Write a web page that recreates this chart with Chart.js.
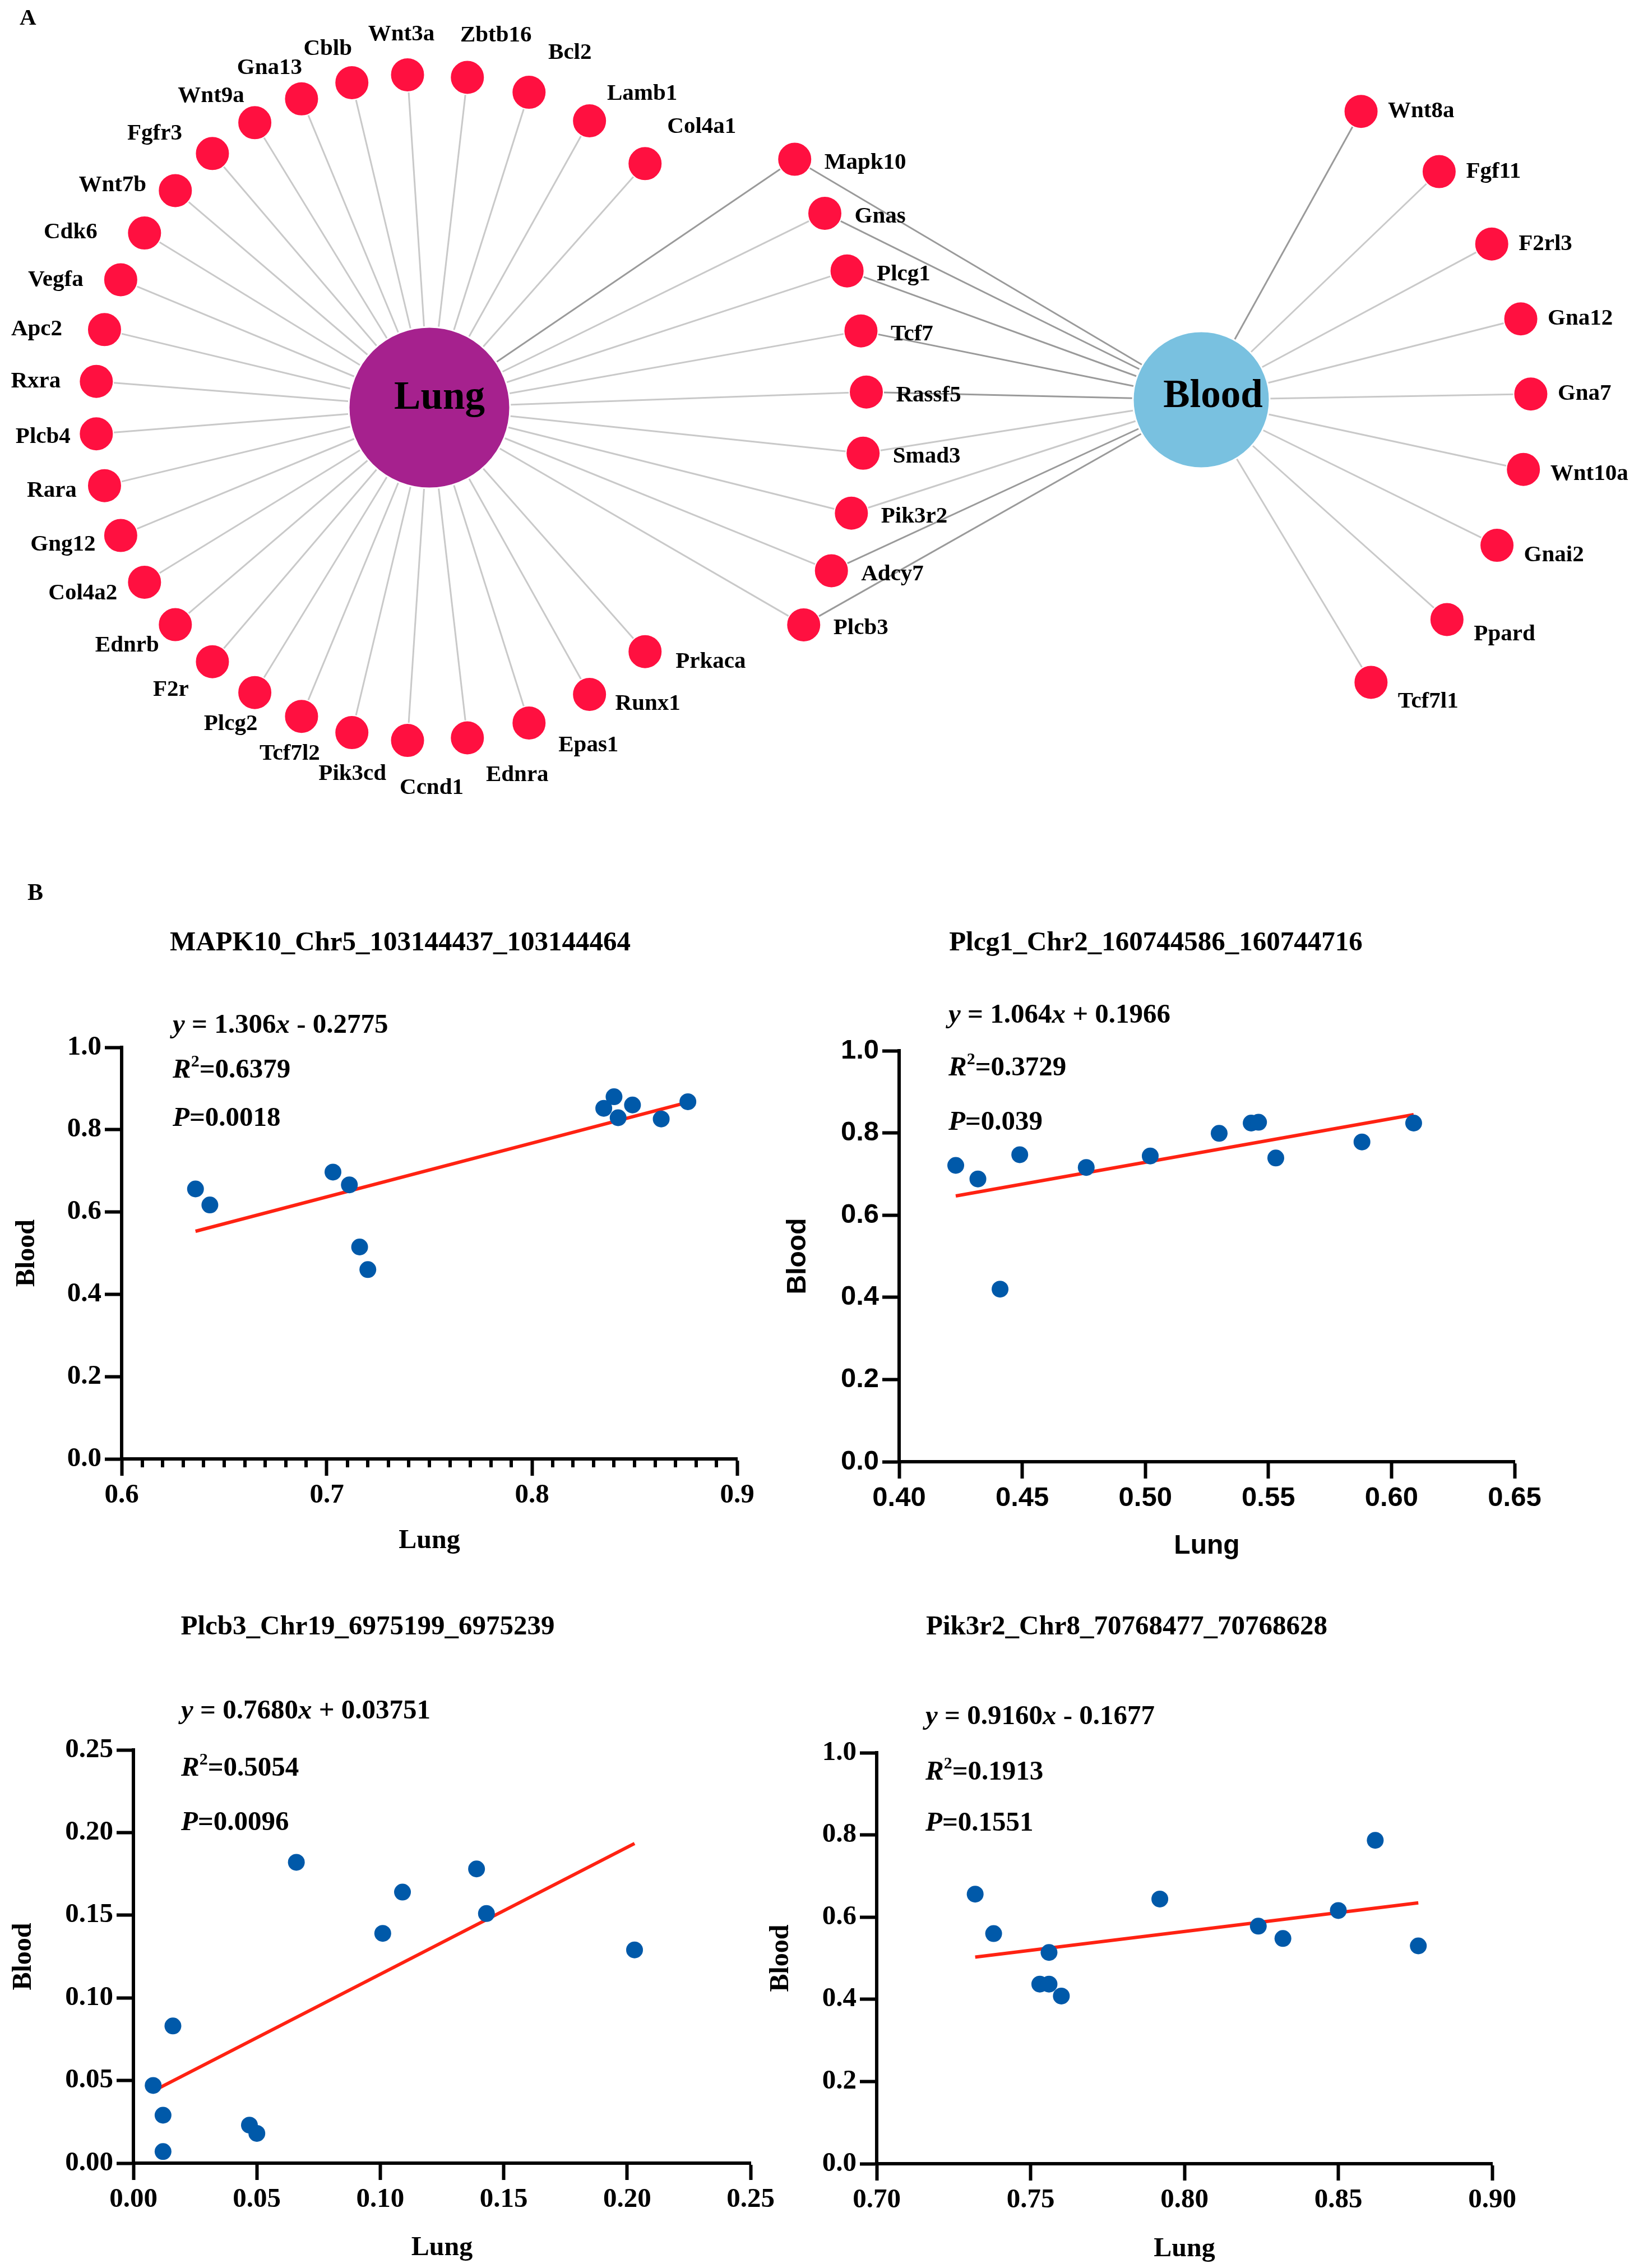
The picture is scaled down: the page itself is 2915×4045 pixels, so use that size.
<!DOCTYPE html>
<html>
<head>
<meta charset="utf-8">
<script src="https://cdn.jsdelivr.net/npm/chart.js"></script>
<style>
  body { margin: 0; background: #fff; width: 2915px; height: 4045px; position: relative; overflow: hidden; }
  canvas { position: absolute; }
</style>
</head>
<body>
<canvas id="network"></canvas>
<canvas id="plot1"></canvas>
<canvas id="plot2"></canvas>
<canvas id="plot3"></canvas>
<canvas id="plot4"></canvas>
<script>
// ---- Panel A: network ----
const lungGenes = ["Col4a1", "Lamb1", "Bcl2", "Zbtb16", "Wnt3a", "Cblb", "Gna13", "Wnt9a", "Fgfr3", "Wnt7b",
    "Cdk6", "Vegfa", "Apc2", "Rxra", "Plcb4", "Rara", "Gng12", "Col4a2", "Ednrb", "F2r",
    "Plcg2", "Tcf7l2", "Pik3cd", "Ccnd1", "Ednra", "Epas1", "Runx1", "Prkaca"];
const sharedGenes = ["Mapk10", "Gnas", "Plcg1", "Tcf7", "Rassf5", "Smad3", "Pik3r2", "Adcy7", "Plcb3"];
const bloodGenes = ["Wnt8a", "Fgf11", "F2rl3", "Gna12", "Gna7", "Wnt10a", "Gnai2", "Ppard", "Tcf7l1"];
const darkLungEdges = ["Mapk10"];
const darkBloodEdges = ["Wnt8a", "Mapk10", "Gnas", "Plcg1", "Tcf7", "Rassf5", "Adcy7", "Plcb3"];

// ---- Panel B: scatter plots ----
const plotTitles = ["MAPK10_Chr5_103144437_103144464", "Plcg1_Chr2_160744586_160744716",
    "Plcb3_Chr19_6975199_6975239", "Pik3r2_Chr8_70768477_70768628"];
const mapk10Lung  = [0.636, 0.643, 0.703, 0.711, 0.716, 0.720, 0.835, 0.840, 0.842, 0.849, 0.863, 0.876];
const mapk10Blood = [0.656, 0.617, 0.697, 0.666, 0.515, 0.460, 0.852, 0.880, 0.829, 0.860, 0.826, 0.868];
const plcg1Lung   = [0.423, 0.432, 0.441, 0.449, 0.476, 0.502, 0.530, 0.543, 0.546, 0.553, 0.588, 0.609];
const plcg1Blood  = [0.721, 0.688, 0.420, 0.747, 0.716, 0.744, 0.799, 0.824, 0.826, 0.739, 0.778, 0.824];
const plcb3Lung   = [0.008, 0.012, 0.012, 0.016, 0.047, 0.050, 0.066, 0.101, 0.109, 0.139, 0.143, 0.203];
const plcb3Blood  = [0.047, 0.029, 0.007, 0.083, 0.023, 0.018, 0.182, 0.139, 0.164, 0.178, 0.151, 0.129];
const pik3r2Lung  = [0.732, 0.738, 0.753, 0.756, 0.756, 0.760, 0.792, 0.824, 0.832, 0.850, 0.862, 0.876];
const pik3r2Blood = [0.656, 0.560, 0.437, 0.437, 0.514, 0.408, 0.644, 0.578, 0.548, 0.616, 0.787, 0.530];
const fitSlope     = ["1.306", "1.064", "0.7680", "0.9160"];
const fitIntercept = ["-0.2775", "0.1966", "0.03751", "-0.1677"];
const rSquared     = ["0.6379", "0.3729", "0.5054", "0.1913"];
const pValues      = ["0.0018", "0.039", "0.0096", "0.1551"];
const xTickLabels = [
    ["0.6", "0.7", "0.8", "0.9"],
    ["0.40", "0.45", "0.50", "0.55", "0.60", "0.65"],
    ["0.00", "0.05", "0.10", "0.15", "0.20", "0.25"],
    ["0.70", "0.75", "0.80", "0.85", "0.90"]];
const yTickLabels = [
    ["0.0", "0.2", "0.4", "0.6", "0.8", "1.0"],
    ["0.0", "0.2", "0.4", "0.6", "0.8", "1.0"],
    ["0.00", "0.05", "0.10", "0.15", "0.20", "0.25"],
    ["0.0", "0.2", "0.4", "0.6", "0.8", "1.0"]];
const lungValues = [mapk10Lung, plcg1Lung, plcb3Lung, pik3r2Lung];
const bloodValues = [mapk10Blood, plcg1Blood, plcb3Blood, pik3r2Blood];

const SERIF = '"Liberation Serif", "Times New Roman", serif';
const SANS = '"Liberation Sans", Arial, sans-serif';

// ---------- network layout ----------
const LUNG = { x: 766, y: 727, r: 144 };
const BLOOD = { x: 2143, y: 713, r: 122 };
const deg = Math.PI / 180;

// label centre shift for the ring round Lung (page px)
const ringLabelShift = [[101,-65],[94,-48],[73,-70],[51,-75],[-11,-72],[-43,-60],[-57,-55],[-78,-47],
    [-103,-35],[-112,-10],[-132,-1],[-116,0],[-121,0],[-108,0],[-95,6],[-94,9],[-103,16],[-110,20],
    [-86,37],[-74,50],[-43,56],[-21,67],[1,74],[43,85],[89,66],[106,40],[104,17],[117,18]];

const mid = (lungGenes.length - 1) / 2;
const lungNodes = lungGenes.map((g, i) => {
    const k = Math.abs(mid - i), s = Math.sign(mid - i);
    const extra = Math.max(0, k - 8) ** 2;
    const a = (180 + s * (9 * k + 0.33 * extra)) * deg;
    const r = 596 - 0.5 * extra;
    return { name: g, x: LUNG.x + r * Math.cos(a), y: LUNG.y + r * Math.sin(a),
             lx: ringLabelShift[i][0], ly: ringLabelShift[i][1], align: "center" };
});
const sharedNodes = sharedGenes.map((g, i) => {
    const a = (-34.2 + 8.04 * i) * deg, r = 788 - 2 * i;
    return { name: g, x: LUNG.x + r * Math.cos(a), y: LUNG.y + r * Math.sin(a), lx: 53, ly: 6, align: "left" };
});
const bmid = (bloodGenes.length - 1) / 2;
const bloodNodes = bloodGenes.map((g, i) => {
    const k = Math.abs(i - bmid), s = Math.sign(i - bmid);
    const a = (-1 + s * (13.2 * k + 0.8 * Math.max(0, k - 1) ** 2)) * deg, r = 588;
    return { name: g, x: BLOOD.x + r * Math.cos(a), y: BLOOD.y + r * Math.sin(a),
             lx: 48, ly: Math.max(0, Math.sin(a)) * 40, align: "left" };
});
const allNodes = lungNodes.concat(sharedNodes, bloodNodes);

function edge(hub, node, dark) {
    return { data: [{ x: hub.x, y: hub.y }, { x: node.x, y: node.y }], showLine: true, pointRadius: 0,
             borderColor: dark ? "#9a9a9a" : "#c9c9c9", borderWidth: 3, order: 5 };
}
const edges = [];
lungNodes.concat(sharedNodes).forEach(n => edges.push(edge(LUNG, n, darkLungEdges.includes(n.name))));
sharedNodes.concat(bloodNodes).forEach(n => edges.push(edge(BLOOD, n, darkBloodEdges.includes(n.name))));

const netLabels = {
    id: "netLabels",
    afterDatasetsDraw(chart) {
        const ctx = chart.ctx, sx = chart.scales.x, sy = chart.scales.y;
        ctx.save();
        ctx.fillStyle = "#000";
        ctx.font = "bold 41px " + SERIF;
        ctx.textBaseline = "middle";
        allNodes.forEach(n => {
            const px = sx.getPixelForValue(n.x), py = sy.getPixelForValue(n.y);
            ctx.textAlign = n.align;
            ctx.fillText(n.name, px + n.lx, py + n.ly);
        });
        ctx.font = "bold 71px " + SERIF;
        ctx.textAlign = "center";
        ctx.textBaseline = "alphabetic";
        ctx.fillText("Lung", sx.getPixelForValue(LUNG.x) + 18, sy.getPixelForValue(LUNG.y) + 2);
        ctx.fillText("Blood", sx.getPixelForValue(BLOOD.x) + 21, sy.getPixelForValue(BLOOD.y) + 13);
        ctx.font = "bold 41px " + SERIF;
        ctx.textAlign = "left";
        ctx.fillText("A", 35, 44);
        ctx.restore();
    }
};

const netCanvas = document.getElementById("network");
netCanvas.width = 2915; netCanvas.height = 1540;
netCanvas.style.left = "0px"; netCanvas.style.top = "0px";
new Chart(netCanvas, {
    type: "scatter",
    data: {
        datasets: [
            { data: [{ x: LUNG.x, y: LUNG.y }, { x: BLOOD.x, y: BLOOD.y }], pointRadius: [LUNG.r, BLOOD.r],
              backgroundColor: ["#a6218e", "#79c1e0"], borderColor: "#fff", borderWidth: 3, order: 0 },
            { data: allNodes.map(n => ({ x: n.x, y: n.y })), pointRadius: 30.5,
              backgroundColor: "#ff1040", borderColor: "#fff", borderWidth: 2, order: 1 },
            ...edges
        ]
    },
    options: {
        responsive: false, animation: false, devicePixelRatio: 1,
        layout: { padding: 0, autoPadding: false },
        events: [],
        scales: {
            x: { type: "linear", min: 0, max: 2915, display: false },
            y: { type: "linear", min: 0, max: 1540, reverse: true, display: false }
        },
        plugins: { legend: { display: false }, tooltip: { enabled: false } }
    },
    plugins: [netLabels]
});

// ---------- scatter plots ----------
const plotLayout = [
    { id: "plot1", box: [0, 1540, 1457, 1280], area: [217, 1868, 1315, 2602], titleAt: [714, 1682],
      eqLeft: 308, eqRows: [1829, 1909, 1995], yPad: 20, xPad: 43, sans: false, minor: true, letter: "B" },
    { id: "plot2", box: [1380, 1540, 1535, 1280], area: [1604, 1874, 2702, 2607], titleAt: [2062, 1682],
      eqLeft: 1692, eqRows: [1811, 1905, 2002], yPad: 15, xPad: 33, sans: true },
    { id: "plot3", box: [0, 2820, 1457, 1225], area: [238, 3121, 1339, 3858], titleAt: [656, 2902],
      eqLeft: 323, eqRows: [3052, 3154, 3251], yPad: 14, xPad: 7, sans: false },
    { id: "plot4", box: [1340, 2820, 1575, 1225], area: [1564, 3126, 2662, 3859], titleAt: [2010, 2902],
      eqLeft: 1651, eqRows: [3062, 3161, 3252], yPad: 25, xPad: 5, sans: false }
];

function richText(ctx, parts, x, y, size) {
    ctx.textBaseline = "middle";
    ctx.textAlign = "left";
    for (const p of parts) {
        const s = p.sup ? Math.round(size * 0.62) : size;
        ctx.font = (p.it ? "italic " : "") + "bold " + s + "px " + SERIF;
        ctx.fillText(p.t, x, p.sup ? y - size * 0.3 : y);
        x += ctx.measureText(p.t).width;
    }
}

function makePlot(i) {
    const L = plotLayout[i];
    const el = document.getElementById(L.id);
    el.width = L.box[2]; el.height = L.box[3];
    el.style.left = L.box[0] + "px"; el.style.top = L.box[1] + "px";

    const xs = lungValues[i], ys = bloodValues[i];
    const slope = parseFloat(fitSlope[i]), icpt = parseFloat(fitIntercept[i]);
    const xMin = Math.min(...xs), xMax = Math.max(...xs);
    const xt = xTickLabels[i], yt = yTickLabels[i];
    const axisFamily = L.sans ? SANS : SERIF;
    const tickFont = { family: axisFamily, size: 49, weight: "bold" };
    const titleFont = { family: axisFamily, size: 48, weight: "bold", lineHeight: 1.2 };

    const neg = fitIntercept[i].startsWith("-");
    const eqParts = [
        [{ t: "y", it: true }, { t: " = " + fitSlope[i] }, { t: "x", it: true },
         { t: (neg ? " - " : " + ") + fitIntercept[i].replace("-", "") }],
        [{ t: "R", it: true }, { t: "2", sup: true }, { t: "=" + rSquared[i] }],
        [{ t: "P", it: true }, { t: "=" + pValues[i] }]
    ];

    const annot = {
        id: "annot" + i,
        afterDraw(chart) {
            const ctx = chart.ctx, ox = L.box[0], oy = L.box[1];
            ctx.save();
            ctx.fillStyle = "#000";
            ctx.font = "bold 49px " + SERIF;
            ctx.textAlign = "center";
            ctx.textBaseline = "middle";
            ctx.fillText(plotTitles[i], L.titleAt[0] - ox, L.titleAt[1] - oy);
            eqParts.forEach((parts, r) => richText(ctx, parts, L.eqLeft - ox, L.eqRows[r] - oy, 49));
            if (L.minor) {
                const sx = chart.scales.x, bottom = chart.chartArea.bottom;
                ctx.strokeStyle = "#000";
                ctx.lineWidth = 6;
                for (let m = 0; m < xt.length - 1; m++) {
                    const a = parseFloat(xt[m]), b = parseFloat(xt[m + 1]);
                    for (let j = 1; j < 10; j++) {
                        const px = Math.round(sx.getPixelForValue(a + (b - a) * j / 10));
                        ctx.beginPath();
                        ctx.moveTo(px, bottom);
                        ctx.lineTo(px, bottom + 15);
                        ctx.stroke();
                    }
                }
            }
            if (L.letter) {
                ctx.font = "bold 42px " + SERIF;
                ctx.textAlign = "left";
                ctx.textBaseline = "alphabetic";
                ctx.fillText(L.letter, 49 - ox, 1605 - oy);
            }
            ctx.restore();
        }
    };

    new Chart(el, {
        type: "scatter",
        data: {
            datasets: [
                { data: xs.map((v, k) => ({ x: v, y: ys[k] })), backgroundColor: "#0059a9",
                  pointRadius: 15, borderWidth: 0, order: 0 },
                { data: [{ x: xMin, y: slope * xMin + icpt }, { x: xMax, y: slope * xMax + icpt }],
                  showLine: true, pointRadius: 0, borderColor: "#ff2212", borderWidth: 6, order: 1 }
            ]
        },
        options: {
            responsive: false, animation: false, devicePixelRatio: 1, events: [],
            layout: { autoPadding: false,
                      padding: { top: L.area[1] - L.box[1], right: L.box[0] + L.box[2] - L.area[2], bottom: 0, left: 0 } },
            plugins: { legend: { display: false }, tooltip: { enabled: false } },
            scales: {
                x: {
                    type: "linear", min: parseFloat(xt[0]), max: parseFloat(xt[xt.length - 1]),
                    afterBuildTicks: s => { s.ticks = xt.map(t => ({ value: parseFloat(t) })); },
                    afterFit: s => { s.height = L.box[1] + L.box[3] - L.area[3]; },
                    ticks: { callback: (v, k) => xt[k], font: tickFont, color: "#000", padding: 6,
                             maxRotation: 0, autoSkip: false },
                    grid: { drawOnChartArea: false, tickLength: 30, tickWidth: 6, tickColor: "#000" },
                    border: { color: "#000", width: 6 },
                    title: { display: true, text: "Lung", font: titleFont, color: "#000",
                             padding: { top: 0, bottom: L.xPad } }
                },
                y: {
                    type: "linear", min: parseFloat(yt[0]), max: parseFloat(yt[yt.length - 1]),
                    afterBuildTicks: s => { s.ticks = yt.map(t => ({ value: parseFloat(t) })); },
                    afterFit: s => { s.width = L.area[0] - L.box[0]; },
                    ticks: { callback: (v, k) => yt[k], font: tickFont, color: "#000", padding: 6, autoSkip: false },
                    grid: { drawOnChartArea: false, tickLength: 30, tickWidth: 6, tickColor: "#000" },
                    border: { color: "#000", width: 6 },
                    title: { display: true, text: "Blood", font: titleFont, color: "#000",
                             padding: { top: L.yPad, bottom: 0 } }
                }
            }
        },
        plugins: [annot]
    });
}

plotLayout.forEach((_, i) => makePlot(i));
</script>
</body>
</html>
